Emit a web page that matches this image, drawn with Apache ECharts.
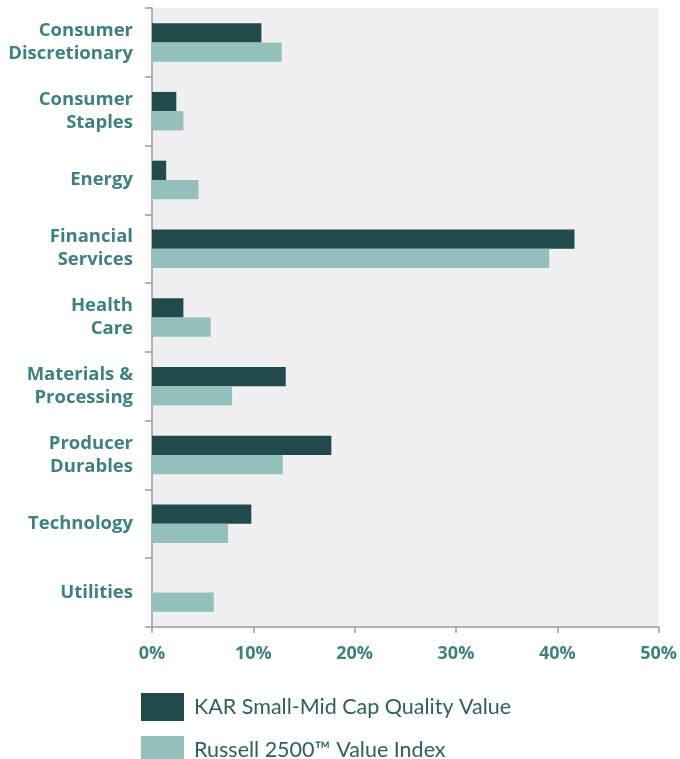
<!DOCTYPE html>
<html>
<head>
<meta charset="utf-8">
<script src="https://cdn.jsdelivr.net/npm/echarts@6/dist/echarts.min.js"></script>
<style>
  html, body { margin: 0; padding: 0; background: #fff; }
  #main { width: 680px; height: 759px; }
</style>
</head>
<body>
<div id="main"></div>
<script>
const categories = [
  "Consumer\nDiscretionary",
  "Consumer\nStaples",
  "Energy",
  "Financial\nServices",
  "Health\nCare",
  "Materials &\nProcessing",
  "Producer\nDurables",
  "Technology",
  "Utilities",
];
const karValues = [10.8, 2.4, 1.4, 41.7, 3.1, 13.2, 17.7, 9.8, 0];
const russellValues = [12.8, 3.1, 4.6, 39.2, 5.8, 7.9, 12.9, 7.5, 6.1];
const seriesNames = ["KAR Small-Mid Cap Quality Value", "Russell 2500\u2122 Value Index"];

const labelColor = "#3f8080";
const axisGray = "#9a9a9a";

// one legend per row so the entries stack the way the reference does
function legendRow(name, top) {
  return {
    orient: "vertical",
    left: 141,
    top: top,
    itemWidth: 43,
    itemHeight: 28,
    icon: "rect",
    padding: 0,
    textStyle: {
      fontFamily: "Lato",
      fontSize: 21.5,
      color: "#2f5f60",
      padding: [0, 0, 0, 5],
    },
    data: [name],
  };
}

let chartDom = document.getElementById("main");
let myChart = echarts.init(chartDom);
let option = {
  animation: false,
  grid: {
    left: 152,
    right: 20,
    top: 8,
    bottom: 132,
    show: true,
    backgroundColor: "#f0f0f0",
    borderWidth: 0,
  },
  legend: [legendRow(seriesNames[0], 693), legendRow(seriesNames[1], 736)],
  xAxis: {
    type: "value",
    min: 0,
    max: 50,
    interval: 10,
    axisLine: { show: true, lineStyle: { color: axisGray, width: 1.5 } },
    axisTick: { show: true, length: 6, lineStyle: { color: axisGray, width: 1.5 } },
    splitLine: { show: false },
    axisLabel: {
      formatter: "{value}%",
      fontFamily: "Open Sans",
      fontWeight: "bold",
      fontSize: 18,
      color: labelColor,
      margin: 18,
    },
  },
  yAxis: {
    type: "category",
    inverse: true,
    data: categories,
    axisLine: { show: true, lineStyle: { color: axisGray, width: 1.5 } },
    axisTick: { show: true, length: 7, lineStyle: { color: axisGray, width: 1.5 } },
    axisLabel: {
      fontFamily: "Open Sans",
      fontWeight: "bold",
      fontSize: 18.5,
      lineHeight: 23,
      color: labelColor,
      margin: 19,
      align: "right",
    },
  },
  series: [
    {
      name: seriesNames[0],
      type: "bar",
      data: karValues,
      barGap: 0,
      barCategoryGap: "44%",
      itemStyle: { color: "#224a4d" },
    },
    {
      name: seriesNames[1],
      type: "bar",
      data: russellValues,
      itemStyle: { color: "#93c0bb" },
    },
  ],
};
option && myChart.setOption(option);
</script>
</body>
</html>
